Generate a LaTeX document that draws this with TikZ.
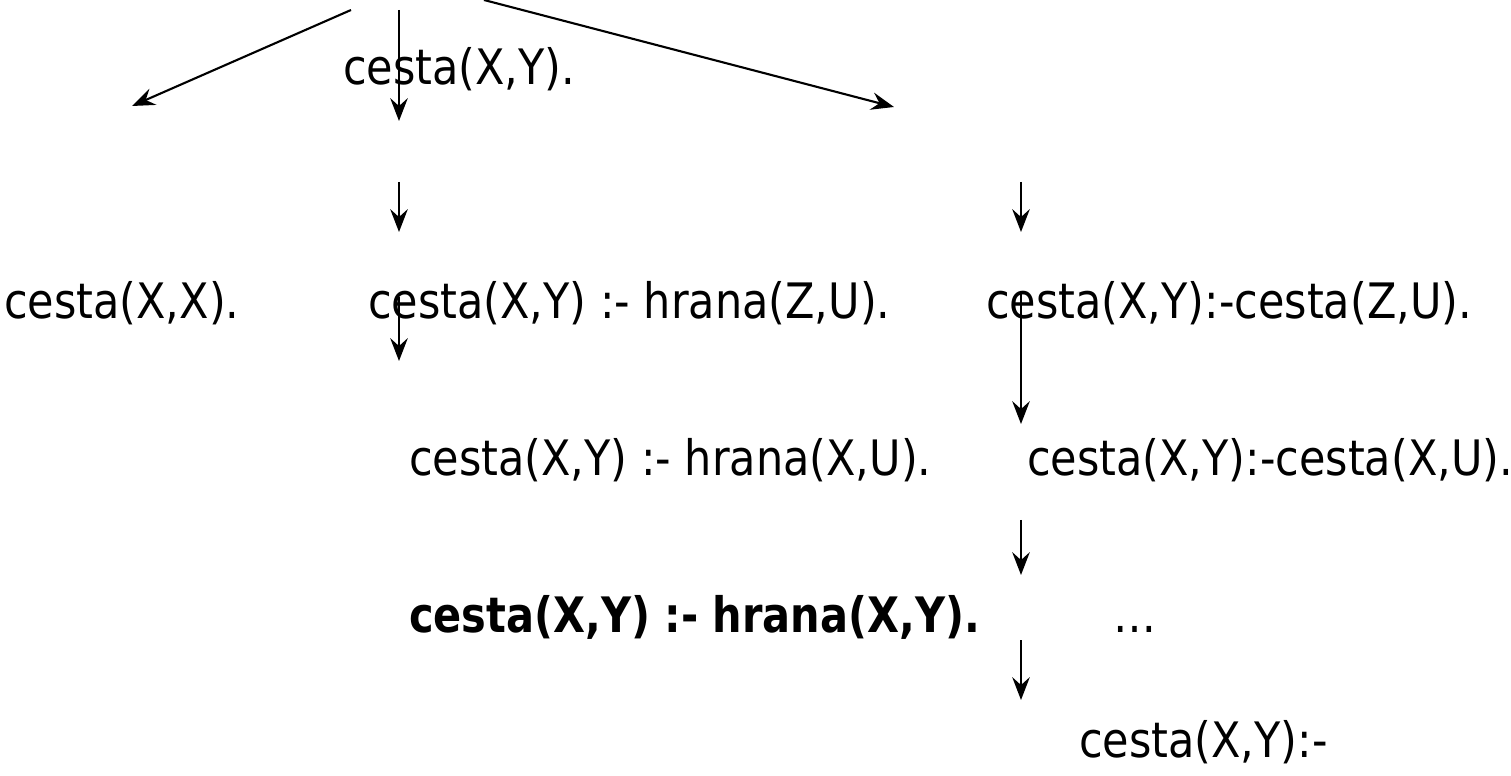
\documentclass[tikz,border=0pt]{standalone}
\usepackage{fontspec}
\setmainfont{DejaVu Sans}[FakeStretch=0.88, BoldFeatures={FakeStretch=0.85}]
\usetikzlibrary{positioning, arrows.meta}

\begin{document}
\begin{tikzpicture}[
  x=0.02cm, y=-0.02cm,
  font=\fontsize{27.8}{32}\selectfont,
  line width=1.2pt,
  txt/.style={anchor=base west, inner sep=0pt},
  arr/.style={-{Stealth[length=13pt, width=10pt, inset=4.5pt]}}
]
  \useasboundingbox (0,0) rectangle (1511,776);

  % clauses
  \node[txt] (goal) at (342,85) {cesta(X,Y).};
  \node[txt] (fact) at (3,319) {cesta(X,X).};
  \node[txt] (hrZU) at (367,319) {cesta(X,Y) :- hrana(Z,U).};
  \node[txt] (ceZU) at (985,319) {cesta(X,Y):-cesta(Z,U).};
  \node[txt] (hrXU) at (408,476) {cesta(X,Y) :- hrana(X,U).};
  \node[txt] (ceXU) at (1026,476) {cesta(X,Y):-cesta(X,U).};
  \node[txt] (hrXY) at (408,632) {\textbf{cesta(X,Y) :- hrana(X,Y).}};
  \node[txt] (dots) at (1112,632) {…};
  \node[txt] (ceXY) at (1078,757) {cesta(X,Y):-};

  % arrow ends
  \coordinate (t1) at (351,10);   \coordinate (h1) at (132,106);
  \coordinate (t2) at (399,10);   \coordinate (h2) at (399,121);
  \coordinate (t3) at (484,0);    \coordinate (h3) at (894,107);
  \coordinate (t4) at (399,182);  \coordinate (h4) at (399,232);
  \coordinate (t5) at (1021,182); \coordinate (h5) at (1021,232);
  \coordinate (t6) at (399,297);  \coordinate (h6) at (399,361);
  \coordinate (t7) at (1021,292); \coordinate (h7) at (1021,424);
  \coordinate (t8) at (1021,520); \coordinate (h8) at (1021,575);
  \coordinate (t9) at (1021,640); \coordinate (h9) at (1021,700);

  \foreach \i in {1,...,9}
    \draw[arr] (t\i) -- (h\i);
\end{tikzpicture}
\end{document}
